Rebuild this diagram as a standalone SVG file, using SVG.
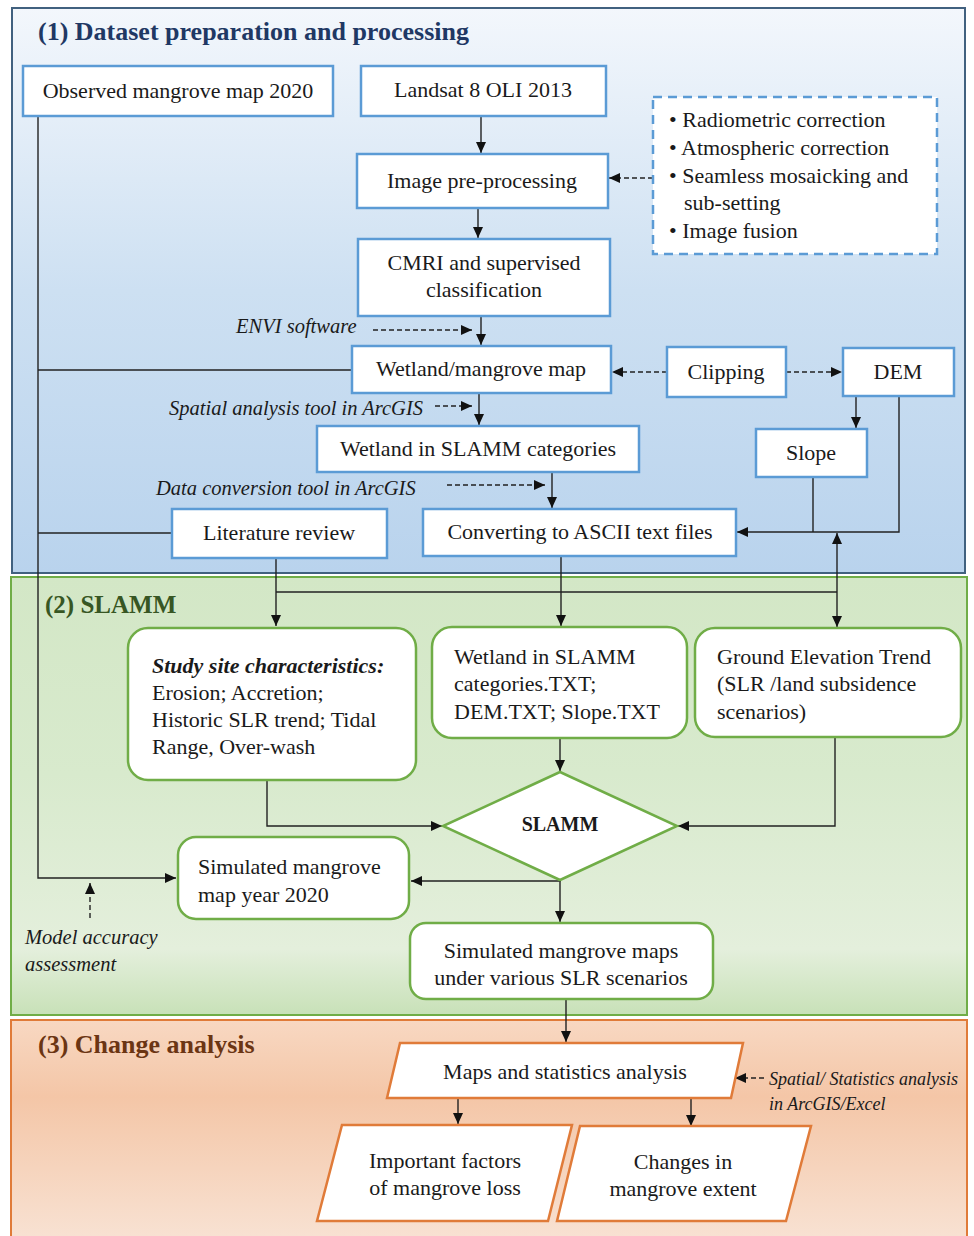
<svg xmlns="http://www.w3.org/2000/svg" width="974" height="1236" viewBox="0 0 974 1236">
<defs>
<linearGradient id="g1" x1="0" y1="0" x2="0" y2="1">
<stop offset="0" stop-color="#f3f7fc"/>
<stop offset="0.5" stop-color="#cde0f2"/>
<stop offset="1" stop-color="#b9d3ed"/>
</linearGradient>
<linearGradient id="g2" x1="0" y1="0" x2="0" y2="1">
<stop offset="0" stop-color="#d3e7c6"/>
<stop offset="0.45" stop-color="#d8eacd"/>
<stop offset="0.85" stop-color="#e4efdc"/>
<stop offset="1" stop-color="#c8e1b8"/>
</linearGradient>
<linearGradient id="g3" x1="0" y1="0" x2="0" y2="1">
<stop offset="0" stop-color="#f8d8c2"/>
<stop offset="0.35" stop-color="#f4c6a7"/>
<stop offset="1" stop-color="#f8e2d3"/>
</linearGradient>
<marker id="ah" markerUnits="userSpaceOnUse" markerWidth="12" markerHeight="10" refX="11" refY="5" orient="auto">
<path d="M0,0 L11,5 L0,10 z" fill="#111"/>
</marker>
<style>
.t{font-family:"Liberation Serif","Times New Roman",serif;font-size:22px;fill:#1a1a1a}
.c{text-anchor:middle}
.it{font-family:"Liberation Serif","Times New Roman",serif;font-style:italic;font-size:20.5px;fill:#1a1a1a}
.it.sm{font-size:18px}
.h{font-family:"Liberation Serif","Times New Roman",serif;font-weight:bold}
.bb{fill:#fff;stroke:#5b9bd5;stroke-width:2.5}
.gb{fill:#fff;stroke:#70ad47;stroke-width:2.5}
.ob{fill:#fff;stroke:#e07b39;stroke-width:2.5}
.ln{fill:none;stroke:#222;stroke-width:1.4}
.ar{fill:none;stroke:#222;stroke-width:1.4;marker-end:url(#ah)}
.da{fill:none;stroke:#222;stroke-width:1.4;stroke-dasharray:5,3;marker-end:url(#ah)}
</style>
</defs>

<g id="panel1">
<rect x="12" y="8" width="953" height="565" fill="url(#g1)" stroke="#41617f" stroke-width="2"/>
<text x="38" y="40" class="h" font-size="26" fill="#1f3864">(1) Dataset preparation and processing</text>
</g>
<g id="panel2">
<rect x="11" y="577" width="956" height="438" fill="url(#g2)" stroke="#70ad47" stroke-width="2"/>
<text x="45" y="613" class="h" font-size="25" fill="#375623">(2) SLAMM</text>
</g>
<g id="panel3">
<rect x="11" y="1020" width="956" height="220" fill="url(#g3)" stroke="#e07b39" stroke-width="2"/>
<text x="38" y="1053" class="h" font-size="26" fill="#6b3513">(3) Change analysis</text>
</g>

<g id="connectors">
<path class="ar" d="M481,116 V153"/>
<path class="ar" d="M478,208 V238"/>
<path class="ar" d="M481,316 V345"/>
<path class="da" d="M373,330 H472"/>
<path class="da" d="M653,178 H609"/>
<path class="ar" d="M479,393 V425"/>
<path class="da" d="M435,406 H472"/>
<path class="da" d="M667,372 H612"/>
<path class="da" d="M786,372 H842"/>
<path class="ar" d="M856,396 V428"/>
<path class="ar" d="M552,472 V508"/>
<path class="da" d="M447,485 H545"/>
<path class="ar" d="M899,396 V532 H737"/>
<path class="ln" d="M813,477 V532"/>
<path class="ar" d="M38,116 V878 H176"/>
<path class="ln" d="M38,370 H352"/>
<path class="ln" d="M38,533 H172"/>
<path class="ar" d="M276,558 V626"/>
<path class="ln" d="M276,592 H837"/>
<path class="ar" d="M561,556 V626"/>
<path class="ar" d="M837,592 V533"/>
<path class="ar" d="M837,592 V627"/>
<path class="ar" d="M560,738 V771"/>
<path class="ar" d="M267,780 V826 H442"/>
<path class="ar" d="M835,737 V826 H678"/>
<path class="ar" d="M560,880 V881 H411"/>
<path class="ar" d="M560,881 V922"/>
<path class="da" d="M90,918 V883"/>
<path class="ar" d="M566,999 V1042"/>
<path class="ar" d="M458,1098 V1124"/>
<path class="ar" d="M691,1098 V1126"/>
<path class="da" d="M764,1078 H735"/>
</g>

<g id="observed">
<rect class="bb" x="23" y="66" width="310" height="50"/>
<text class="t c" x="178" y="98">Observed mangrove map 2020</text>
</g>
<g id="landsat">
<rect class="bb" x="361" y="66" width="245" height="50"/>
<text class="t c" x="483" y="97">Landsat 8 OLI 2013</text>
</g>
<g id="preprocessing">
<rect class="bb" x="357" y="154" width="251" height="54"/>
<text class="t c" x="482" y="188">Image pre-processing</text>
</g>
<g id="steps">
<rect x="653" y="97" width="284" height="157" fill="#fff" stroke="#5b9bd5" stroke-width="2.5" stroke-dasharray="9,6"/>
<text class="t" x="669" y="127">• Radiometric correction</text>
<text class="t" x="669" y="155">• Atmospheric correction</text>
<text class="t" x="669" y="183">• Seamless mosaicking and</text>
<text class="t" x="684" y="210">sub-setting</text>
<text class="t" x="669" y="238">• Image fusion</text>
</g>
<g id="cmri">
<rect class="bb" x="358" y="239" width="252" height="77"/>
<text class="t c" x="484" y="270">CMRI and supervised</text>
<text class="t c" x="484" y="297">classification</text>
</g>
<g id="envi">
<text class="it" x="236" y="333">ENVI software</text>
</g>
<g id="wetlandmap">
<rect class="bb" x="352" y="346" width="259" height="47"/>
<text class="t c" x="481" y="376">Wetland/mangrove map</text>
</g>
<g id="clipping">
<rect class="bb" x="667" y="347" width="119" height="50"/>
<text class="t c" x="726" y="379">Clipping</text>
</g>
<g id="dem">
<rect class="bb" x="843" y="348" width="111" height="48"/>
<text class="t c" x="898" y="379">DEM</text>
</g>
<g id="spatialtool">
<text class="it" x="169" y="415">Spatial analysis tool in ArcGIS</text>
</g>
<g id="slammcat">
<rect class="bb" x="317" y="426" width="322" height="46"/>
<text class="t c" x="478" y="456">Wetland in SLAMM categories</text>
</g>
<g id="slope">
<rect class="bb" x="756" y="429" width="111" height="48"/>
<text class="t c" x="811" y="460">Slope</text>
</g>
<g id="dataconv">
<text class="it" x="156" y="495">Data conversion tool in ArcGIS</text>
</g>
<g id="literature">
<rect class="bb" x="172" y="509" width="215" height="49"/>
<text class="t c" x="279" y="540">Literature review</text>
</g>
<g id="ascii">
<rect class="bb" x="423" y="509" width="313" height="47"/>
<text class="t c" x="580" y="539">Converting to ASCII text files</text>
</g>

<g id="study">
<rect class="gb" x="128" y="628" width="288" height="152" rx="20"/>
<text class="t" x="152" y="673" font-weight="bold" font-style="italic">Study site characteristics:</text>
<text class="t" x="152" y="700">Erosion; Accretion;</text>
<text class="t" x="152" y="727">Historic SLR trend; Tidal</text>
<text class="t" x="152" y="754">Range, Over-wash</text>
</g>
<g id="txtfiles">
<rect class="gb" x="432" y="627" width="255" height="111" rx="20"/>
<text class="t" x="454" y="664">Wetland in SLAMM</text>
<text class="t" x="454" y="691">categories.TXT;</text>
<text class="t" x="454" y="719">DEM.TXT; Slope.TXT</text>
</g>
<g id="ground">
<rect class="gb" x="695" y="628" width="266" height="109" rx="20"/>
<text class="t" x="717" y="664">Ground Elevation Trend</text>
<text class="t" x="717" y="691">(SLR /land subsidence</text>
<text class="t" x="717" y="719">scenarios)</text>
</g>
<g id="slamm">
<polygon class="gb" points="560,772 677,826 560,880 443,826"/>
<text class="h c" x="560" y="831" font-size="20" fill="#1a1a1a">SLAMM</text>
</g>
<g id="sim2020">
<rect class="gb" x="178" y="837" width="231" height="82" rx="18"/>
<text class="t" x="198" y="874">Simulated mangrove</text>
<text class="t" x="198" y="902">map year 2020</text>
</g>
<g id="accuracy">
<text class="it" x="25" y="944">Model accuracy</text>
<text class="it" x="25" y="971">assessment</text>
</g>
<g id="simmaps">
<rect class="gb" x="410" y="923" width="303" height="76" rx="16"/>
<text class="t c" x="561" y="958">Simulated mangrove maps</text>
<text class="t c" x="561" y="985">under various SLR scenarios</text>
</g>

<g id="mapsstats">
<polygon class="ob" points="400,1043 743,1043 731,1098 387,1098"/>
<text class="t c" x="565" y="1079">Maps and statistics analysis</text>
</g>
<g id="spatialstats">
<text class="it sm" x="769" y="1085">Spatial/ Statistics analysis</text>
<text class="it sm" x="769" y="1110">in ArcGIS/Excel</text>
</g>
<g id="factors">
<polygon class="ob" points="342,1125 572,1125 548,1221 317,1221"/>
<text class="t c" x="445" y="1168">Important factors</text>
<text class="t c" x="445" y="1195">of mangrove loss</text>
</g>
<g id="changes">
<polygon class="ob" points="580,1126 811,1126 786,1221 557,1221"/>
<text class="t c" x="683" y="1169">Changes in</text>
<text class="t c" x="683" y="1196">mangrove extent</text>
</g>
</svg>
